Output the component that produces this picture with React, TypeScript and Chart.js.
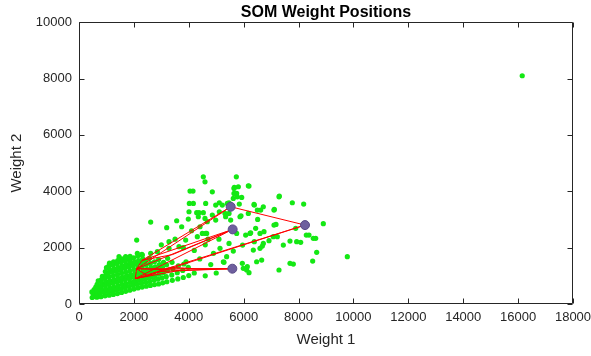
import React, { useEffect, useRef } from "react";
import { Chart, registerables } from "chart.js";

Chart.register(...registerables);

const TITLE = "SOM Weight Positions";
const X_LABEL = "Weight 1";
const Y_LABEL = "Weight 2";
const X_TICKS = [0, 2000, 4000, 6000, 8000, 10000, 12000, 14000, 16000, 18000];
const Y_TICKS = [0, 2000, 4000, 6000, 8000, 10000];

// dense cloud of input vectors near origin
const denseInputs: [number, number][] = [
  [480, 230], [520, 340], [470, 430], [560, 270], [590, 390], [550, 510], [610, 600],
  [650, 240], [670, 360], [640, 470], [690, 590], [660, 700], [700, 820],
  [800, 260], [780, 380], [820, 500], [790, 630], [830, 740], [810, 860], [850, 980],
  [950, 290], [930, 410], [970, 530], [940, 660], [980, 790], [950, 900], [990, 1030], [960, 1150], [1000, 1290],
  [1100, 310], [1080, 430], [1120, 570], [1090, 690], [1130, 820], [1100, 960], [1070, 1080], [1120, 1210], [1090, 1350], [1110, 1450],
  [1250, 340], [1230, 470], [1270, 600], [1240, 740], [1280, 860], [1250, 990], [1220, 1130], [1270, 1250], [1240, 1380], [1260, 1500],
  [1400, 370], [1380, 510], [1420, 640], [1390, 770], [1430, 910], [1400, 1040], [1370, 1170], [1420, 1300], [1390, 1430], [1410, 1540],
  [1550, 410], [1530, 540], [1570, 690], [1540, 810], [1580, 950], [1550, 1090], [1520, 1210], [1570, 1350], [1540, 1480], [1560, 1600],
  [1700, 450], [1680, 580], [1720, 720], [1690, 870], [1730, 990], [1700, 1130], [1670, 1270], [1720, 1400], [1690, 1530], [1710, 1650],
  [1850, 490], [1830, 620], [1870, 770], [1840, 900], [1880, 1040], [1850, 1180], [1820, 1310], [1870, 1450], [1840, 1580], [1860, 1690],
  [2000, 530], [1980, 660], [2020, 800], [1990, 950], [2030, 1080], [2000, 1220], [1970, 1360], [2020, 1500], [1990, 1640],
  [2150, 570], [2130, 700], [2170, 850], [2140, 980], [2180, 1120], [2150, 1270], [2120, 1400], [2170, 1540], [2140, 1700],
  [2300, 600], [2280, 740], [2320, 890], [2290, 1020], [2330, 1170], [2300, 1300], [2270, 1450], [2320, 1600], [2290, 1760],
  [2450, 630], [2430, 770], [2470, 930], [2440, 1080], [2480, 1230], [2450, 1390], [2420, 1530],
  [2600, 660], [2580, 800], [2620, 970], [2590, 1120], [2630, 1290], [2600, 1440], [2570, 1620],
  [2750, 690], [2730, 850], [2770, 1000], [2740, 1170], [2780, 1320], [2750, 1500],
  [2900, 710], [2880, 880], [2920, 1060], [2890, 1230], [2930, 1400], [2900, 1580],
  [3050, 750], [3030, 930], [3070, 1110], [3040, 1300], [3080, 1480],
  [3200, 790], [3180, 970], [3220, 1180], [3190, 1390], [3230, 1620],
  [3400, 840], [3380, 1030], [3420, 1250], [3390, 1480],
  [3600, 890], [3580, 1110], [3620, 1350],
  [3800, 940], [3780, 1190], [3820, 1420],
  [4000, 1010], [3980, 1300],
];

// scattered input vectors away from the core
const sparseInputs: [number, number][] = [
  [4591, 4337], [4530, 4514], [4045, 4007], [4154, 4007], [4858, 3982], [5660, 4137], [5806, 4160],
  [6194, 4184], [5733, 4514], [5745, 3924], [5623, 3747], [5928, 3783], [7300, 3830], [4020, 3570],
  [4166, 3570], [4616, 3570], [5112, 3593], [5465, 3593], [5841, 3546], [6388, 3511], [6716, 3451],
  [7117, 3357], [7773, 3593], [8186, 3546], [4530, 3239], [4288, 3239], [4858, 3156], [5112, 3274],
  [5320, 3215], [5903, 3132], [6170, 3215], [6510, 3002], [7178, 2825], [8902, 2849], [2612, 2908],
  [3559, 2955], [3983, 3014], [3195, 2707], [3741, 2742], [4409, 2742], [4652, 2506], [5745, 2506],
  [6231, 2506], [6595, 2506], [7081, 2388], [7688, 2234], [7931, 2210], [8077, 2187], [8538, 2329],
  [8660, 1833], [8514, 1525], [9777, 1678], [6388, 2210], [6716, 2151], [5960, 2092], [6352, 1915],
  [6595, 1974], [6656, 1560], [6473, 1500], [5987, 1266], [6109, 1206], [7688, 1443], [7810, 1418],
  [7287, 1206], [2102, 2270], [2126, 1798], [1858, 1489], [5260, 1500], [5380, 1678], [5623, 1879],
  [5138, 1974], [16150, 8100], [6741, 2565], [7226, 2388], [8283, 2447], [5951, 1443], [6133, 1324],
  [6194, 1111], [5283, 1478], [6680, 2057], [6923, 2246], [7445, 2092], [5466, 2151], [6170, 4196],
  [5648, 4103], [5648, 3925], [5768, 3805], [7288, 3805], [6377, 3534], [6498, 3333], [6620, 3333],
  [7105, 3333], [5222, 3511], [5405, 3570], [5344, 3097], [5466, 3215], [5526, 2979], [5866, 3097],
  [6437, 2684], [7105, 2801], [6255, 2529], [6073, 2447], [7895, 2684], [8380, 2447], [8624, 2329],
  [4373, 3239], [4591, 3038], [4676, 2920], [4348, 3097], [4981, 3511], [4981, 2979], [4494, 2506],
  [4008, 3274], [3280, 2210], [1458, 1678], [1700, 1678], [2308, 1738], [2612, 1798], [2855, 1856],
  [3280, 1974], [3644, 2033], [3887, 2270], [4312, 2388], [4616, 2506], [3800, 2000], [4200, 1900],
  [4600, 2100], [4900, 1800], [4400, 1600], [4800, 1400], [5000, 1100], [4600, 1000], [4200, 1100],
  [3900, 1500], [4700, 2300], [5100, 2300], [3500, 2300], [3000, 2100], [4100, 2600],
];

// SOM neuron weight positions (first four are the ones visible outside the cloud)
const neuronX = [5526, 5599, 8235, 5587, 2050, 2100, 2500, 2900, 3300, 4300, 2300, 3400, 3700];
const neuronY = [3451, 2648, 2801, 1253, 900, 1250, 1000, 1150, 1300, 1250, 1550, 1750, 1200];
const neuronShown = [true, true, true, true, false, false, false, false, false, false, false, false, false];

// neighbour links between neurons
const links: [number, number][] = [
  [0, 2], [2, 4], [2, 6], [1, 5], [1, 10], [1, 4], [0, 5], [0, 10], [3, 5], [3, 7], [3, 9],
  [4, 5], [4, 6], [6, 7], [7, 8], [8, 9], [5, 10], [10, 11], [11, 1], [6, 5], [4, 12], [5, 12], [3, 12],
];

const AXIS_COLOR = "#262626";
const FONT_FAMILY = "'Liberation Sans', Arial, Helvetica, sans-serif";

const boxPlugin = {
  id: "matlabBox",
  afterDraw(chart: any) {
    const { ctx, chartArea, scales } = chart;
    const { left, right, top, bottom } = chartArea;
    const L = Math.round(left) + 0.5;
    const R = Math.round(right) - 0.5;
    const T = Math.round(top) + 0.5;
    const B = Math.round(bottom) - 0.5;
    ctx.save();
    ctx.strokeStyle = AXIS_COLOR;
    ctx.lineWidth = 1;
    ctx.beginPath();
    ctx.rect(L, T, R - L, B - T);
    ctx.stroke();
    const len = 5;
    ctx.beginPath();
    X_TICKS.forEach((v) => {
      const px = Math.round(scales.x.getPixelForValue(v)) + 0.5;
      ctx.moveTo(px, B);
      ctx.lineTo(px, B - len);
      ctx.moveTo(px, T);
      ctx.lineTo(px, T + len);
    });
    Y_TICKS.forEach((v) => {
      const py = Math.round(scales.y.getPixelForValue(v)) + 0.5;
      ctx.moveTo(L, py);
      ctx.lineTo(L + len, py);
      ctx.moveTo(R, py);
      ctx.lineTo(R - len, py);
    });
    ctx.stroke();
    ctx.restore();
  },
};

export default function App() {
  const ref = useRef<HTMLCanvasElement | null>(null);

  useEffect(() => {
    if (!ref.current) return;
    const inputs = [...denseInputs, ...sparseInputs].map(([x, y]) => ({ x, y }));
    const linkSets = links.map(([a, b]) => ({
      type: "line" as const,
      data: [
        { x: neuronX[a], y: neuronY[a] },
        { x: neuronX[b], y: neuronY[b] },
      ],
      borderColor: "#ff0000",
      borderWidth: 1,
      pointRadius: 0,
      showLine: true,
      fill: false,
      order: 2,
    }));
    const neurons = neuronX.map((x, i) => ({ x, y: neuronY[i] }));

    const chart = new Chart(ref.current, {
      type: "scatter",
      data: {
        datasets: [
          {
            data: inputs,
            backgroundColor: "#14e814",
            borderWidth: 0,
            pointRadius: 2.6,
            pointStyle: "circle",
            order: 3,
          } as any,
          ...linkSets,
          {
            data: neurons,
            backgroundColor: "#6e5f9e",
            borderColor: "#584a86",
            borderWidth: 1,
            pointRadius: neuronShown.map((s) => (s ? 4.5 : 0)),
            order: 1,
          } as any,
        ],
      },
      options: {
        animation: false,
        responsive: false,
        devicePixelRatio: 1,
        layout: { padding: { left: 0, right: 0, top: 0, bottom: 0 } },
        plugins: {
          legend: { display: false },
          tooltip: { enabled: false },
          title: {
            display: true,
            text: TITLE,
            fullSize: false,
            color: "#000",
            font: { family: FONT_FAMILY, size: 16, weight: "bold" },
            padding: { top: 3, bottom: 0 },
          },
        },
        scales: {
          x: {
            type: "linear",
            min: 0,
            max: 18000,
            grid: { display: false, drawTicks: false },
            border: { display: false },
            ticks: {
              stepSize: 2000,
              padding: 6,
              color: AXIS_COLOR,
              font: { family: FONT_FAMILY, size: 13 },
              maxRotation: 0,
              callback: (v: any) => String(v),
            },
            title: {
              display: true,
              text: X_LABEL,
              color: AXIS_COLOR,
              font: { family: FONT_FAMILY, size: 15 },
              padding: { top: 0, bottom: 7 },
            },
            afterFit: (s: any) => {
              s.height = 52;
              s.paddingRight = 18;
              s.paddingLeft = 0;
            },
          },
          y: {
            type: "linear",
            min: 0,
            max: 10000,
            grid: { display: false, drawTicks: false },
            border: { display: false },
            ticks: {
              stepSize: 2000,
              padding: 7,
              color: AXIS_COLOR,
              font: { family: FONT_FAMILY, size: 13 },
              callback: (v: any) => String(v),
            },
            title: {
              display: true,
              text: Y_LABEL,
              color: AXIS_COLOR,
              font: { family: FONT_FAMILY, size: 15 },
              padding: { top: 8, bottom: 0 },
            },
            afterFit: (s: any) => {
              s.width = 79;
            },
          },
        },
      } as any,
      plugins: [boxPlugin],
    });
    return () => chart.destroy();
  }, []);

  return (
    <div style={{ position: "fixed", left: 0, top: 0, width: 591, height: 356, background: "#fff" }}>
      <canvas ref={ref} width={591} height={356} style={{ display: "block" }} />
    </div>
  );
}
